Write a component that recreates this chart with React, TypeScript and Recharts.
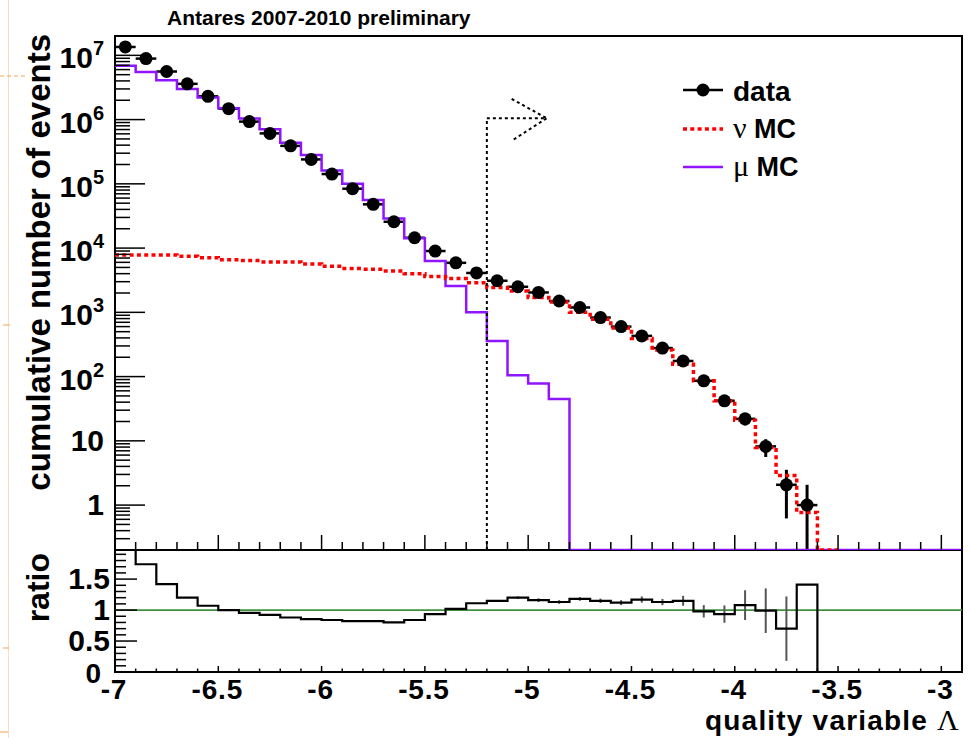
import React from 'react';
import {
  ComposedChart,
  Line,
  Scatter,
  XAxis,
  YAxis,
  ErrorBar,
  ReferenceLine,
  ReferenceArea,
} from 'recharts';

const FONT = '"Liberation Sans", Arial, Helvetica, sans-serif';
const SERIF = '"Liberation Serif", "DejaVu Serif", serif';

// axis ranges
const X_MIN = -7;
const X_MAX = -2.9;
const BIN_WIDTH = 0.1;
const Y_MIN = 0.2;
const Y_MAX = 2e7;
const R_MIN = 0;
const R_MAX = 1.97;

const X_LABELS = [-7, -6.5, -6, -5.5, -5, -4.5, -4, -3.5, -3];
const R_MAJOR = [0, 0.5, 1, 1.5];

// cumulative counts per bin of 0.1, starting at -7
const DATA_COUNTS = [
  1.35e7, 8.9e6, 5.6e6, 3.6e6, 2.3e6, 1.48e6, 9.3e5, 6.1e5, 3.9e5, 2.4e5,
  1.42e5, 8.4e4, 4.8e4, 2.57e4, 1.45e4, 9.0e3, 5.9e3, 4.1e3, 3.1e3, 2.5e3,
  2.04e3, 1.5e3, 1.19e3, 830, 600, 430, 278, 175, 86, 42,
  22, 8.2, 2.07, 1,
];
const DATA_ERR_UP = [
  0, 0, 0, 0, 0, 0, 0, 0, 0, 0, 0, 0, 0, 0, 0, 0, 0, 0, 0, 0,
  0, 0, 0, 0, 0, 0, 0, 0, 9, 6.5, 4.7, 2.4, 1.47, 1.07,
];
const DATA_ERR_DN = [
  0, 0, 0, 0, 0, 0, 0, 0, 0, 0, 0, 0, 0, 0, 0, 0, 0, 0, 0, 0,
  0, 0, 0, 0, 0, 0, 0, 0, 9, 6.5, 4.7, 2.6, 1.45, 0.8,
];

const MU_MC = [
  6.9e6, 5.5e6, 4.1e6, 3.0e6, 2.2e6, 1.5e6, 1.04e6, 7.1e5, 4.35e5, 2.8e5,
  1.62e5, 1.0e5, 5.6e4, 2.9e4, 1.42e4, 6.3e3, 2.57e3, 1.0e3, 359, 105,
  78, 44.6, 0, 0, 0, 0, 0, 0, 0, 0,
  0, 0, 0, 0, 0, 0, 0, 0, 0, 0, 0,
];

const NU_MC = [
  7.8e3, 7.8e3, 7.8e3, 7.45e3, 7.1e3, 6.6e3, 6.4e3, 6.1e3, 6.1e3, 5.65e3,
  5.2e3, 4.8e3, 4.7e3, 4.4e3, 4.0e3, 3.6e3, 3.36e3, 2.9e3, 2.43e3, 2.15e3,
  1.7e3, 1.45e3, 1.0e3, 780, 570, 390, 260, 155, 86, 42,
  21, 7.9, 2.9, 0.77, 0,
];

const RATIO = [
  2.1, 1.74, 1.42, 1.2, 1.07, 1.0, 0.956, 0.924, 0.88, 0.855,
  0.84, 0.82, 0.82, 0.8, 0.84, 0.935, 1.02, 1.11, 1.15, 1.2,
  1.16, 1.13, 1.18, 1.15, 1.12, 1.17, 1.13, 1.15, 0.98, 0.935,
  1.08, 0.99, 0.7, 1.41, 0, 0, 0, 0, 0, 0, 0,
];
const RATIO_ERR = [
  0, 0, 0, 0, 0, 0, 0, 0, 0, 0, 0, 0, 0, 0, 0, 0, 0, 0, 0, 0.02,
  0.03, 0.03, 0.03, 0.035, 0.04, 0.05, 0.05, 0.08, 0.1, 0.14,
  0.24, 0.36, 0.52,
];

// cut and arrow annotation (x, y in data units)
const CUT_X = -5.2;
const ARROW_Y = 1.05e6;
const ARROW_TIP_X = -4.91;
const ARROW_WINGS = [
  { x: -5.08, y: 2.1e6 },
  { x: -5.07, y: 4.9e5 },
];

const edge = (i: number) => +(X_MIN + BIN_WIDTH * i).toFixed(3);
const center = (i: number) => +(X_MIN + BIN_WIDTH * (i + 0.5)).toFixed(3);

const stepData = (vals: number[], floor: number) => {
  const pts = vals.map((v, i) => ({ x: edge(i), y: Math.max(v, floor) }));
  pts.push({ x: edge(vals.length), y: Math.max(vals[vals.length - 1], floor) });
  return pts;
};

const dataPoints = DATA_COUNTS.map((v, i) => ({
  x: center(i),
  y: v,
  ex: BIN_WIDTH / 2,
  ey: [DATA_ERR_DN[i], DATA_ERR_UP[i]],
}));
const muSteps = stepData(MU_MC, Y_MIN);
const nuSteps = stepData(NU_MC, Y_MIN);
const ratioSteps = stepData(RATIO, R_MIN);
const ratioErrPoints = RATIO_ERR.map((e, i) => ({ x: center(i), y: RATIO[i], ey: e })).filter(
  (p) => p.ey > 0
);

// tick positions
const X_TICKS: number[] = [];
for (let i = 0; edge(i) <= X_MAX + 1e-9; i++) X_TICKS.push(edge(i));
const Y_TICKS: number[] = [];
for (let e = -1; e <= 7; e++) {
  for (let k = 1; k <= 9; k++) {
    const v = k * Math.pow(10, e);
    if (v >= Y_MIN - 1e-9 && v <= Y_MAX) Y_TICKS.push(v);
  }
}
const R_TICKS: number[] = [];
for (let i = 0; i <= 19; i++) R_TICKS.push(+(i * 0.1).toFixed(2));

const near = (a: number, b: number) => Math.abs(a - b) < 1e-6;
const isHalf = (v: number) => near(v * 2, Math.round(v * 2));

function TopYTick({ x, y, payload }: any) {
  const v = payload.value;
  const lg = Math.log10(v);
  const exp = Math.round(lg);
  const major = near(lg, exp);
  let label: React.ReactNode = null;
  if (major) {
    if (exp >= 2) {
      label = (
        <text x={x - 11} y={y + 13} textAnchor="end" fontSize={30} fontWeight="bold" fontFamily={FONT}>
          10
          <tspan dy={-13} fontSize={20}>
            {exp}
          </tspan>
        </text>
      );
    } else {
      label = (
        <text x={x - 11} y={y + 10} textAnchor="end" fontSize={30} fontWeight="bold" fontFamily={FONT}>
          {exp === 1 ? '10' : '1'}
        </text>
      );
    }
  }
  return (
    <g>
      <line x1={x} x2={x + (major ? 30 : 15)} y1={y} y2={y} stroke="#000" strokeWidth={1.5} />
      {label}
    </g>
  );
}

function TopXTick({ x, y, payload }: any) {
  const major = isHalf(payload.value);
  return <line x1={x} x2={x} y1={y} y2={y - (major ? 15 : 8)} stroke="#000" strokeWidth={1.5} />;
}

function RatioYTick({ x, y, payload }: any) {
  const v = payload.value;
  const major = R_MAJOR.some((m) => near(m, v));
  const isZero = v === 0;
  return (
    <g>
      <line x1={x} x2={x + (major ? 22 : 11)} y1={y} y2={y} stroke="#000" strokeWidth={1.5} />
      {major && (
        <text
          x={isZero ? x - 14 : x - 5}
          y={isZero ? y + 11 : y + 10}
          textAnchor="end"
          fontSize={isZero ? 28 : 30}
          fontWeight="bold"
          fontFamily={FONT}
        >
          {String(v)}
        </text>
      )}
    </g>
  );
}

function RatioXTick({ x, y, payload }: any) {
  const v = payload.value;
  const major = isHalf(v);
  const labelled = X_LABELS.some((l) => near(l, v));
  return (
    <g>
      <line x1={x} x2={x} y1={y} y2={y - (major ? 6 : 3.5)} stroke="#000" strokeWidth={1.5} />
      {labelled && (
        <text
          x={x - 1}
          y={y + 27}
          textAnchor="middle"
          fontSize={28}
          fontWeight="bold"
          fontFamily={FONT}
          letterSpacing={0.8}
        >
          {String(+v.toFixed(1))}
        </text>
      )}
    </g>
  );
}

const Marker = (props: any) => <circle cx={props.cx} cy={props.cy} r={6.5} fill="#000" />;
const NoMarker = () => <g />;

export default function App() {
  return (
    <div style={{ position: 'absolute', left: 0, top: 0, width: 972, height: 738, background: '#fff' }}>
      <div style={{ position: 'absolute', left: 0, top: 0 }}>
        <ComposedChart width={972} height={551} margin={{ top: 36, right: 10, bottom: 0, left: 0 }}>
          <XAxis
            type="number"
            dataKey="x"
            domain={[X_MIN, X_MAX]}
            allowDataOverflow
            ticks={X_TICKS}
            interval={0}
            height={1}
            tickSize={0}
            tickMargin={0}
            axisLine={false}
            tick={<TopXTick />}
          />
          <YAxis
            type="number"
            dataKey="y"
            scale="log"
            domain={[Y_MIN, Y_MAX]}
            allowDataOverflow
            ticks={Y_TICKS}
            interval={0}
            width={115}
            tickSize={0}
            tickMargin={0}
            axisLine={false}
            tick={<TopYTick />}
          />
          <Scatter data={dataPoints} fill="#000" shape={<Marker />} isAnimationActive={false}>
            <ErrorBar dataKey="ex" direction="x" width={0} stroke="#000" strokeWidth={2.5} />
            <ErrorBar dataKey="ey" direction="y" width={0} stroke="#000" strokeWidth={3} />
          </Scatter>
          <Line
            data={muSteps}
            dataKey="y"
            type="stepAfter"
            stroke="#8f14ff"
            strokeWidth={2.5}
            dot={false}
            isAnimationActive={false}
          />
          <Line
            data={nuSteps}
            dataKey="y"
            type="stepAfter"
            stroke="#ff0000"
            strokeWidth={3.5}
            strokeDasharray="4 3.3"
            dot={false}
            isAnimationActive={false}
          />
          <ReferenceLine
            segment={[{ x: CUT_X, y: Y_MIN }, { x: CUT_X, y: ARROW_Y }]}
            stroke="#000"
            strokeWidth={2}
            strokeDasharray="3 3"
            ifOverflow="visible"
          />
          <ReferenceLine
            segment={[{ x: CUT_X, y: ARROW_Y }, { x: ARROW_TIP_X, y: ARROW_Y }]}
            stroke="#000"
            strokeWidth={2}
            strokeDasharray="3 3"
            ifOverflow="visible"
          />
          {ARROW_WINGS.map((w, i) => (
            <ReferenceLine
              key={i}
              segment={[w, { x: ARROW_TIP_X, y: ARROW_Y }]}
              stroke="#000"
              strokeWidth={2}
              strokeDasharray="3 3"
              ifOverflow="visible"
            />
          ))}
          <ReferenceArea
            x1={X_MIN}
            x2={X_MAX}
            y1={Y_MIN}
            y2={Y_MAX}
            fill="none"
            stroke="#000"
            strokeWidth={2}
            ifOverflow="visible"
          />
        </ComposedChart>
      </div>

      <div style={{ position: 'absolute', left: 0, top: 550 }}>
        <ComposedChart width={972} height={188} margin={{ top: 0, right: 10, bottom: 0, left: 0 }}>
          <XAxis
            type="number"
            dataKey="x"
            domain={[X_MIN, X_MAX]}
            allowDataOverflow
            ticks={X_TICKS}
            interval={0}
            height={66}
            tickSize={0}
            tickMargin={0}
            axisLine={false}
            tick={<RatioXTick />}
          />
          <YAxis
            type="number"
            dataKey="y"
            domain={[R_MIN, R_MAX]}
            allowDataOverflow
            ticks={R_TICKS}
            interval={0}
            width={115}
            tickSize={0}
            tickMargin={0}
            axisLine={false}
            tick={<RatioYTick />}
          />
          <ReferenceLine y={1} stroke="#3f9140" strokeWidth={1.8} />
          <Scatter data={ratioErrPoints} shape={<NoMarker />} isAnimationActive={false}>
            <ErrorBar dataKey="ey" direction="y" width={0} stroke="#555" strokeWidth={2} />
          </Scatter>
          <Line
            data={ratioSteps}
            dataKey="y"
            type="stepAfter"
            stroke="#000"
            strokeWidth={2.2}
            dot={false}
            isAnimationActive={false}
          />
          <ReferenceArea
            x1={X_MIN}
            x2={X_MAX}
            y1={R_MIN}
            y2={R_MAX}
            fill="none"
            stroke="#000"
            strokeWidth={2}
            ifOverflow="visible"
          />
        </ComposedChart>
      </div>

      <svg
        width={972}
        height={738}
        style={{ position: 'absolute', left: 0, top: 0, pointerEvents: 'none' }}
        fontFamily={FONT}
      >
        {/* slide edge remnants */}
        <line x1={8.5} x2={8.5} y1={0} y2={738} stroke="#fbdcc2" strokeWidth={1} />
        <line x1={0} x2={26} y1={76} y2={76} stroke="#f5a35c" strokeWidth={1} strokeDasharray="4 3" />
        <line x1={3} x2={10} y1={325} y2={325} stroke="#f5a35c" strokeWidth={1} />
        <line x1={3} x2={9} y1={648} y2={648} stroke="#f5a35c" strokeWidth={1} />
        <line x1={0} x2={8} y1={732} y2={732} stroke="#f5a35c" strokeWidth={1} />

        <text x={167} y={25} fontSize={21} fontWeight="bold">
          Antares 2007-2010 preliminary
        </text>

        <text transform="translate(50,34) rotate(-90)" textAnchor="end" fontSize={33} fontWeight="bold">
          cumulative number of events
        </text>
        <text transform="translate(49,553) rotate(-90)" textAnchor="end" fontSize={32} fontWeight="bold">
          ratio
        </text>
        <text x={960} y={730} textAnchor="end" fontSize={28} fontWeight="bold" letterSpacing={1.2}>
          quality variable{' '}
          <tspan fontFamily={SERIF} fontWeight="normal" fontSize={30}>
            Λ
          </tspan>
        </text>

        {/* legend */}
        <line x1={683} x2={723} y1={90} y2={90} stroke="#000" strokeWidth={2.5} />
        <circle cx={703} cy={90} r={6.5} fill="#000" />
        <text x={733} y={101} fontSize={28} fontWeight="bold">
          data
        </text>
        <line x1={683} x2={723} y1={129} y2={129} stroke="#ff0000" strokeWidth={3.5} strokeDasharray="4 3.3" />
        <text x={733} y={138} fontSize={27} fontWeight="bold">
          <tspan fontFamily={SERIF} fontWeight="normal" fontSize={30}>
            ν
          </tspan>{' '}
          MC
        </text>
        <line x1={683} x2={723} y1={167} y2={167} stroke="#8f14ff" strokeWidth={2.5} />
        <text x={733} y={176} fontSize={27} fontWeight="bold">
          <tspan fontFamily={SERIF} fontWeight="normal" fontSize={30}>
            μ
          </tspan>{' '}
          MC
        </text>
      </svg>
    </div>
  );
}
